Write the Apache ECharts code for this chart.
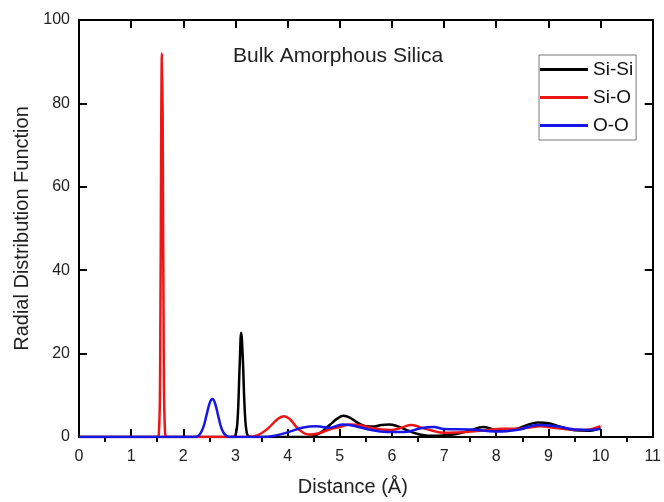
<!DOCTYPE html>
<html>
<head>
<meta charset="utf-8">
<script src="https://cdn.jsdelivr.net/npm/echarts@6/dist/echarts.min.js"></script>
<style>
  html, body { margin: 0; padding: 0; background: #fff; }
  #chart { width: 664px; height: 502px; }
</style>
</head>
<body>
<div id="chart"></div>
<script>
// x ticks
var xTicks = [0, 1, 2, 3, 4, 5, 6, 7, 8, 9, 10, 11];
var halfTicks = ['0.5', '1.5', '2.5', '3.5', '4.5', '5.5', '6.5', '7.5', '8.5', '9.5', '10.5'];

// Si-Si
var siSiX = [0, 2.95, 3.0, 3.04, 3.08, 3.11, 3.14, 3.18, 3.22, 3.27, 3.35, 4.4, 4.6, 4.8, 4.95, 5.07, 5.2, 5.35, 5.5, 5.65, 5.8, 5.95, 6.1, 6.3, 6.5, 6.7, 6.9, 7.1, 7.3, 7.5, 7.75, 7.95, 8.15, 8.4, 8.6, 8.8, 9.0, 9.25, 9.5, 9.75, 10.0];
var siSiY = [0, 0, 0.4, 4, 17, 25, 19, 6, 0.8, 0.1, 0, 0, 0.8, 2.8, 4.4, 5.1, 4.6, 3.4, 2.6, 2.5, 2.9, 3.0, 2.6, 1.6, 0.7, 0.3, 0.3, 0.5, 0.9, 1.6, 2.4, 1.8, 1.5, 2.0, 2.9, 3.5, 3.3, 2.4, 1.6, 1.5, 2.1];

// Si-O
var siOX = [0, 1.48, 1.53, 1.555, 1.575, 1.59, 1.605, 1.625, 1.65, 1.69, 3.2, 3.4, 3.6, 3.8, 3.93, 4.05, 4.2, 4.4, 4.6, 4.8, 5.0, 5.2, 5.4, 5.6, 5.8, 6.0, 6.2, 6.37, 6.55, 6.75, 7.0, 7.25, 7.5, 7.8, 8.1, 8.4, 8.6, 8.85, 9.1, 9.4, 9.7, 10.0];
var siOY = [0, 0, 0.5, 15, 70, 92, 75, 20, 0.8, 0, 0, 0.3, 1.8, 4.2, 5.0, 4.2, 2.0, 0.6, 0.9, 1.8, 2.4, 3.0, 2.8, 2.2, 1.8, 1.7, 2.3, 2.9, 2.3, 1.6, 1.0, 1.1, 1.3, 1.6, 2.0, 2.0, 2.2, 2.6, 2.2, 1.8, 1.7, 2.6];

// O-O
var ooX = [0, 2.2, 2.3, 2.38, 2.45, 2.51, 2.56, 2.61, 2.67, 2.74, 2.82, 2.92, 3.5, 3.75, 4.0, 4.3, 4.55, 4.8, 5.05, 5.3, 5.55, 5.9, 6.25, 6.55, 6.8, 7.0, 7.5, 8.0, 8.2, 8.45, 8.8, 9.15, 9.5, 9.8, 10.0];
var ooY = [0, 0, 0.4, 2.2, 5.5, 8.3, 9.1, 8.0, 5.0, 1.8, 0.3, 0, 0, 0.3, 1.1, 2.3, 2.6, 2.2, 3.0, 2.6, 1.8, 1.2, 1.2, 2.1, 2.4, 1.9, 1.8, 1.3, 1.4, 1.8, 2.9, 2.6, 1.8, 1.7, 2.0];

function pairs(xs, ys) {
  return xs.map(function (x, i) { return [x, ys[i]]; });
}

var myChart = echarts.init(document.getElementById('chart'));
var font = 'Liberation Sans, Arial, sans-serif';

myChart.setOption({
  animation: false,
  textStyle: { fontFamily: font },
  title: {
    text: 'Bulk Amorphous Silica',
    left: 233,
    top: 46,
    padding: 0,
    textStyle: { fontSize: 21, fontWeight: 'normal', color: '#222', fontFamily: font }
  },
  legend: {
    orient: 'vertical',
    left: 539,
    top: 55,
    padding: [5, 3, 5, 1],
    itemGap: 9,
    itemWidth: 48,
    itemHeight: 3,
    icon: 'rect',
    borderColor: '#777',
    borderWidth: 1,
    textStyle: { fontSize: 19, color: '#111', fontFamily: font, lineHeight: 17 },
    data: ['Si-Si', 'Si-O', 'O-O']
  },
  grid: { left: 79, right: 7, top: 20, bottom: 60, containLabel: false },
  xAxis: [
    {
      type: 'value', position: 'bottom', min: xTicks[0], max: xTicks[xTicks.length - 1], interval: 1,
      name: 'Distance (Å)', nameLocation: 'middle', nameGap: 40,
      nameTextStyle: { fontSize: 20, color: '#222', padding: [0, 26, 0, 0] },
      axisLine: { onZero: false, lineStyle: { color: '#000', width: 2 } },
      axisTick: { inside: true, length: 8, lineStyle: { color: '#000', width: 2 } },
      axisLabel: { fontSize: 16, color: '#222', margin: 12 },
      splitLine: { show: false }
    },
    {
      type: 'value', position: 'top', min: xTicks[0], max: xTicks[xTicks.length - 1], interval: 1,
      axisLine: { onZero: false, lineStyle: { color: '#000', width: 2 } },
      axisTick: { inside: true, length: 8, lineStyle: { color: '#000', width: 2 } },
      axisLabel: { show: false },
      splitLine: { show: false }
    },
    {
      // minor ticks at the half units, pointing outward
      type: 'category', position: 'bottom', offset: 0, data: halfTicks, boundaryGap: true,
      axisLine: { show: true, onZero: false, lineStyle: { color: '#000', width: 2 } },
      axisTick: { show: true, inside: false, length: 5, alignWithLabel: true, interval: 0, lineStyle: { color: '#000', width: 2 } },
      axisLabel: { show: false, interval: 0 },
      splitLine: { show: false }
    }
  ],
  yAxis: [
    {
      type: 'value', position: 'left', min: 0, max: 100, interval: 20,
      name: 'Radial Distribution Function', nameLocation: 'middle', nameGap: 46,
      nameTextStyle: { fontSize: 20, color: '#222' },
      axisLine: { onZero: false, lineStyle: { color: '#000', width: 2 } },
      axisTick: { inside: true, length: 8, lineStyle: { color: '#000', width: 2 } },
      axisLabel: { fontSize: 16, color: '#222', margin: 9 },
      splitLine: { show: false }
    },
    {
      type: 'value', position: 'right', min: 0, max: 100, interval: 20,
      axisLine: { onZero: false, lineStyle: { color: '#000', width: 2 } },
      axisTick: { inside: true, length: 8, lineStyle: { color: '#000', width: 2 } },
      axisLabel: { show: false },
      splitLine: { show: false }
    }
  ],
  series: [
    {
      name: 'Si-Si', type: 'line', xAxisIndex: 0, yAxisIndex: 0,
      symbol: 'none', smooth: 0.4,
      color: '#000000', lineStyle: { width: 2.5 },
      data: pairs(siSiX, siSiY)
    },
    {
      name: 'Si-O', type: 'line', xAxisIndex: 0, yAxisIndex: 0,
      symbol: 'none', smooth: 0.4,
      color: '#ec1616', lineStyle: { width: 2.5 },
      data: pairs(siOX, siOY)
    },
    {
      name: 'O-O', type: 'line', xAxisIndex: 0, yAxisIndex: 0,
      symbol: 'none', smooth: 0.4,
      color: '#1616e6', lineStyle: { width: 2.5 },
      data: pairs(ooX, ooY)
    }
  ]
});
</script>
</body>
</html>
